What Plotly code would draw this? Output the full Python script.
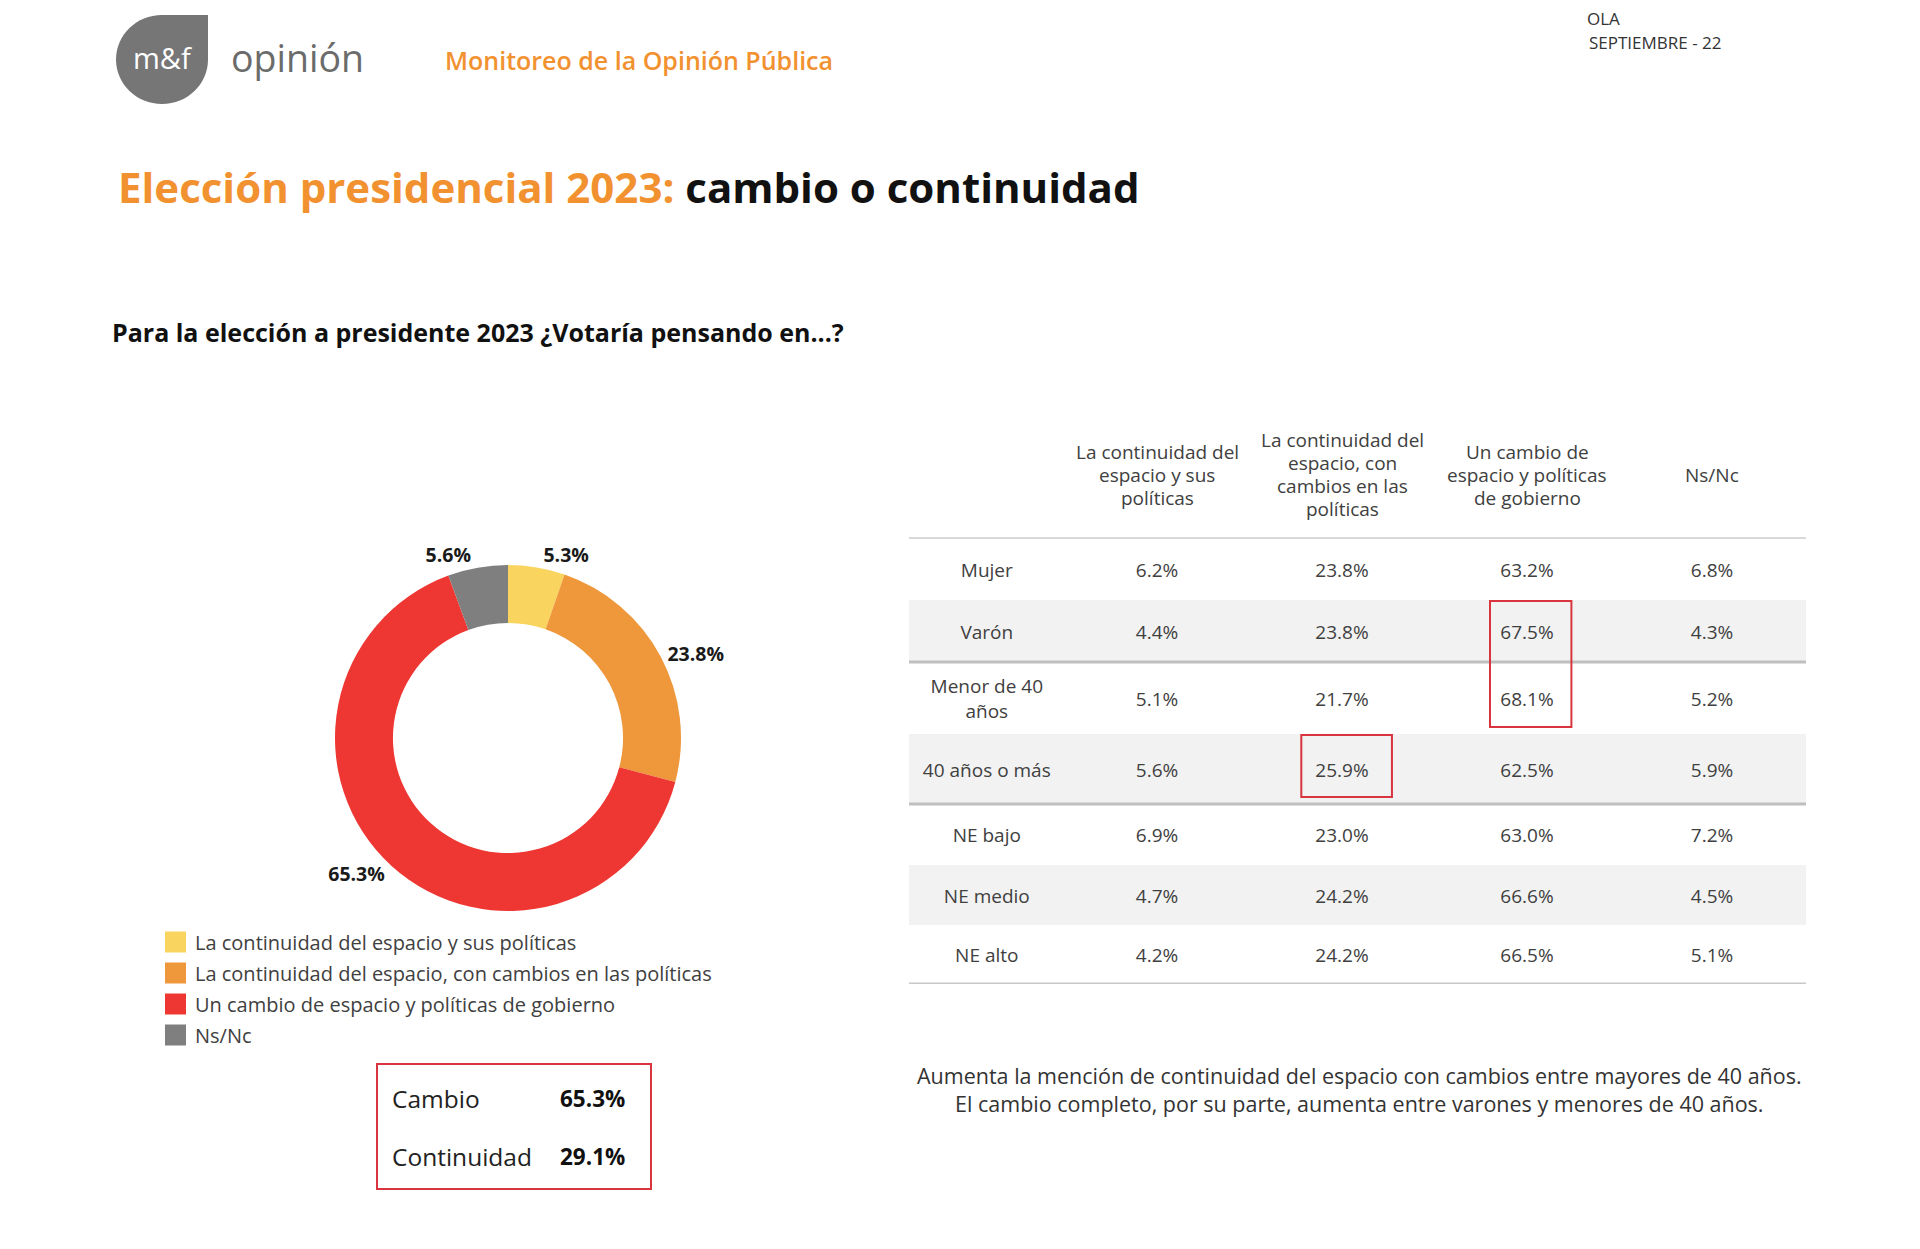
import plotly.graph_objects as go
import numpy as np

# ---------------- data ----------------
PIE_LABELS = [
    "La continuidad del espacio y sus políticas",
    "La continuidad del espacio, con cambios en las políticas",
    "Un cambio de espacio y políticas de gobierno",
    "Ns/Nc",
]
PIE_VALUES = [5.3, 23.8, 65.3, 5.6]
PIE_COLORS = ["#F9D55F", "#EE973B", "#EE3732", "#7F7F7F"]

SUMMARY_LABELS = ["Cambio", "Continuidad"]
SUMMARY_VALUES = [65.3, 29.1]

TABLE_HEADERS = [
    ["La continuidad del", "espacio y sus", "políticas"],
    ["La continuidad del", "espacio, con", "cambios en las", "políticas"],
    ["Un cambio de", "espacio y políticas", "de gobierno"],
    ["Ns/Nc"],
]
ROW_LABELS = ["Mujer", "Varón", "Menor de 40<br>años", "40 años o más",
              "NE bajo", "NE medio", "NE alto"]
COL_CONT = [6.2, 4.4, 5.1, 5.6, 6.9, 4.7, 4.2]
COL_CONT_CAMBIOS = [23.8, 23.8, 21.7, 25.9, 23.0, 24.2, 24.2]
COL_CAMBIO = [63.2, 67.5, 68.1, 62.5, 63.0, 66.6, 66.5]
COL_NSNC = [6.8, 4.3, 5.2, 5.9, 7.2, 4.5, 5.1]
# highlighted cells: (column index, first row, last row)
HIGHLIGHTS = [(2, 1, 2), (1, 3, 3)]

NOTE_LINES = [
    "Aumenta la mención de continuidad del espacio con cambios entre mayores de 40 años.",
    "El cambio completo, por su parte, aumenta entre varones y menores de 40 años.",
]

# ---------------- style ----------------
W, H = 1920, 1249
FONT = "Open Sans"
ORANGE = "#F29130"
TXT = "#404040"
RED_BOX = "#D8353F"
ROW_H = [62, 62, 72, 70, 61, 60, 59]
HEADER_H = 118
TABLE_TOP, TABLE_LEFT, TABLE_RIGHT = 420, 909, 1806
COL_X = [-0.92, 0, 1, 2, 3]
COL_PX = 185.0
SHADED = [1, 3, 5]
TEXT_DY = 3          # vertical nudge of table text (px)
HDR_LINE = 23        # header line spacing (px)
TFS = 19             # table font size

edges = np.concatenate([[0], np.cumsum(ROW_H)])
centers = (edges[:-1] + edges[1:]) / 2 + TEXT_DY
table_bottom = TABLE_TOP + HEADER_H + edges[-1]

fig = go.Figure()

# ---------- donut ----------
cx, cy, r = 508, 738, 173
fig.add_trace(go.Pie(
    labels=PIE_LABELS, values=PIE_VALUES, sort=False, direction="clockwise",
    rotation=0, hole=0.665,
    marker=dict(colors=PIE_COLORS, line=dict(width=0)),
    textinfo="text", text=[f"{v:.1f}%" for v in PIE_VALUES],
    textposition="outside",
    outsidetextfont=dict(family=FONT, size=19.5, color="#1a1a1a", weight="bold"),
    domain=dict(x=[(cx - r) / W, (cx + r) / W], y=[1 - (cy + r) / H, 1 - (cy - r) / H]),
    showlegend=False, hoverinfo="label+percent",
))

# ---------- table (scatter text on its own axes) ----------
xr = [(TABLE_LEFT - 1157) / COL_PX, (TABLE_RIGHT - 1157) / COL_PX]
table_cols = [COL_CONT, COL_CONT_CAMBIOS, COL_CAMBIO, COL_NSNC]
fig.add_trace(go.Scatter(
    x=[COL_X[0]] * len(ROW_LABELS), y=centers, mode="text", text=ROW_LABELS,
    textfont=dict(family=FONT, size=TFS, color=TXT), xaxis="x2", yaxis="y2",
    showlegend=False, cliponaxis=False, hoverinfo="skip"))
for i, col in enumerate(table_cols):
    fig.add_trace(go.Scatter(
        x=[COL_X[i + 1]] * len(col), y=centers, mode="text",
        text=[f"{v:.1f}%" for v in col],
        textfont=dict(family=FONT, size=TFS, color=TXT), xaxis="x2", yaxis="y2",
        showlegend=False, cliponaxis=False, hoverinfo="skip"))

shapes = []
for ri in SHADED:
    shapes.append(dict(type="rect", xref="x2 domain", yref="y2", x0=0, x1=1,
                       y0=edges[ri], y1=edges[ri + 1], fillcolor="#F2F2F2",
                       line=dict(width=0), layer="below"))
for e, wdt, colr in [(edges[0], 2, "#D9D9D9"), (edges[2], 3, "#BFBFBF"),
                     (edges[4], 3, "#BFBFBF"), (edges[7], 3, "#C8C8C8")]:
    shapes.append(dict(type="line", xref="x2 domain", yref="y2", x0=0, x1=1,
                       y0=e, y1=e, line=dict(color=colr, width=wdt)))
for ci, r0, r1 in HIGHLIGHTS:
    xc = COL_X[ci + 1]
    if ci == 2:
        a, b = xc - 0.20, xc + 0.24
    else:
        a, b = xc - 0.22, xc + 0.27
    shapes.append(dict(type="rect", xref="x2", yref="y2", x0=a, x1=b,
                       y0=edges[r0] + 1, y1=edges[r1 + 1] - 7,
                       line=dict(color=RED_BOX, width=2), fillcolor="rgba(0,0,0,0)"))

annotations = []
for i, lines in enumerate(TABLE_HEADERS):
    n = len(lines)
    for j, ln in enumerate(lines):
        yy = -HEADER_H / 2 - 4 + (j - (n - 1) / 2) * HDR_LINE
        annotations.append(dict(xref="x2", yref="y2", x=COL_X[i + 1], y=yy,
                                text=ln, showarrow=False,
                                font=dict(family=FONT, size=TFS, color=TXT)))

# ---------- logo / header (canvas axes in page pixels) ----------
lx0, lx1, ly0, ly1 = 116, 208, 15, 104
mx, my = (lx0 + lx1) / 2, (ly0 + ly1) / 2
rx, ry = (lx1 - lx0) / 2, (ly1 - ly0) / 2
k = 0.5523
logo_path = (f"M{lx1},{ly0} L{lx1},{my} "
             f"C{lx1},{my + k * ry} {mx + k * rx},{ly1} {mx},{ly1} "
             f"C{mx - k * rx},{ly1} {lx0},{my + k * ry} {lx0},{my} "
             f"C{lx0},{my - k * ry} {mx - k * rx},{ly0} {mx},{ly0} Z")
shapes.append(dict(type="path", xref="x", yref="y", path=logo_path,
                   fillcolor="#767676", line=dict(width=0)))
annotations += [
    dict(xref="x", yref="y", x=mx + 1, y=57, text="m&f", showarrow=False,
         font=dict(family=FONT, size=29, color="white")),
    dict(xref="x", yref="y", x=229, y=57, xanchor="left", text="opinión", showarrow=False,
         font=dict(family=FONT, size=37.5, color="#6B6B6B")),
    dict(xref="x", yref="y", x=443, y=60, xanchor="left",
         text="Monitoreo de la Opinión Pública", showarrow=False,
         font=dict(family=FONT, size=25, color=ORANGE, weight=600)),
    dict(xref="x", yref="y", x=1585, y=18, xanchor="left", text="OLA", showarrow=False,
         font=dict(family=FONT, size=17, color="#333333")),
    dict(xref="x", yref="y", x=1587, y=42, xanchor="left", text="SEPTIEMBRE - 22",
         showarrow=False, font=dict(family=FONT, size=17, color="#333333")),
    dict(xref="x", yref="y", x=116, y=186, xanchor="left",
         text=f"<span style='color:{ORANGE}'>Elección presidencial 2023:</span> cambio o continuidad",
         showarrow=False, font=dict(family=FONT, size=42, color="#111111", weight="bold")),
    dict(xref="x", yref="y", x=110, y=332, xanchor="left",
         text="Para la elección a presidente 2023 ¿Votaría pensando en...?",
         showarrow=False, font=dict(family=FONT, size=25, color="#111111", weight="bold")),
    dict(xref="x", yref="y", x=1359, y=1089, text="<br>".join(NOTE_LINES),
         showarrow=False, font=dict(family=FONT, size=21.5, color="#333333")),
]

# ---------- custom legend ----------
leg_y0, leg_dy = 942, 31
for i, (lab, colr) in enumerate(zip(PIE_LABELS, PIE_COLORS)):
    yy = leg_y0 + i * leg_dy
    shapes.append(dict(type="rect", xref="x", yref="y", x0=165, x1=186,
                       y0=yy - 10.5, y1=yy + 10.5, fillcolor=colr, line=dict(width=0)))
    annotations.append(dict(xref="x", yref="y", x=193, y=yy, xanchor="left", text=lab,
                            showarrow=False, font=dict(family=FONT, size=20, color=TXT)))

# ---------- summary box ----------
shapes.append(dict(type="rect", xref="x", yref="y", x0=377, x1=651, y0=1064, y1=1189,
                   line=dict(color=RED_BOX, width=2), fillcolor="rgba(0,0,0,0)"))
for i, (lab, v) in enumerate(zip(SUMMARY_LABELS, SUMMARY_VALUES)):
    yy = 1098 + i * 58
    annotations.append(dict(xref="x", yref="y", x=390, y=yy, xanchor="left", text=lab,
                            showarrow=False, font=dict(family=FONT, size=24.5, color="#222222")))
    annotations.append(dict(xref="x", yref="y", x=627, y=yy, xanchor="right", text=f"{v:.1f}%",
                            showarrow=False,
                            font=dict(family=FONT, size=22.5, color="#111111", weight="bold")))

fig.update_layout(
    width=W, height=H, margin=dict(l=0, r=0, t=0, b=0),
    paper_bgcolor="white", plot_bgcolor="rgba(0,0,0,0)",
    xaxis=dict(domain=[0, 1], range=[0, W], visible=False, fixedrange=True),
    yaxis=dict(domain=[0, 1], range=[H, 0], visible=False, fixedrange=True),
    xaxis2=dict(domain=[TABLE_LEFT / W, TABLE_RIGHT / W], range=xr, visible=False,
                anchor="y2", fixedrange=True),
    yaxis2=dict(domain=[1 - table_bottom / H, 1 - TABLE_TOP / H],
                range=[edges[-1], -HEADER_H], visible=False, anchor="x2", fixedrange=True),
    shapes=shapes, annotations=annotations, showlegend=False,
)
# dummy trace so the canvas axes exist
fig.add_trace(go.Scatter(x=[None], y=[None], xaxis="x", yaxis="y", showlegend=False,
                         hoverinfo="skip"))

fig.write_html("out.html")
